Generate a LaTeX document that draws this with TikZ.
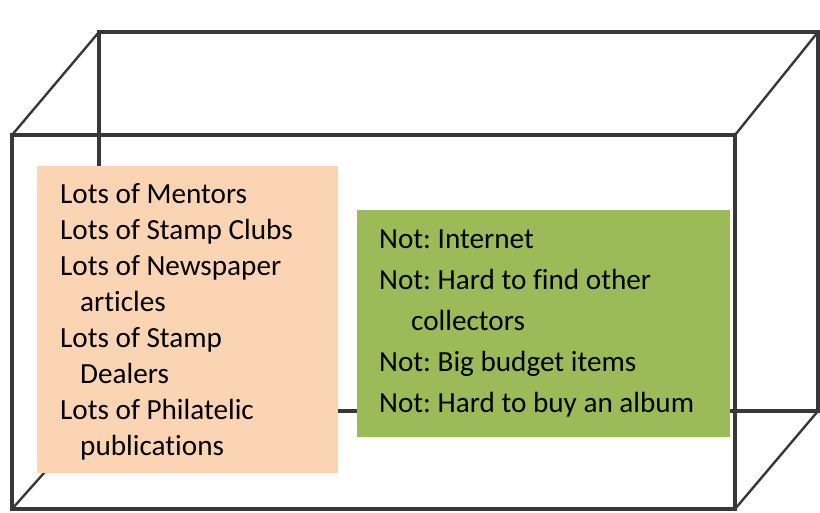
\documentclass[tikz,border=0pt]{standalone}
\usepackage{fontspec}
\setmainfont[Ligatures=NoCommon]{Carlito}
\definecolor{edgegray}{HTML}{383838}
\definecolor{peach}{HTML}{FBD4B4}
\definecolor{olive}{HTML}{9BBB59}
\begin{document}
\frenchspacing
\begin{tikzpicture}[x=1pt,y=-1pt,
  edge/.style={draw=edgegray,line width=3.2pt,line join=miter},
  diag/.style={draw=edgegray,line width=2.4pt},
  panel/.style={anchor=north west,inner sep=0pt,outer sep=0pt},
  item/.style={anchor=base west,inner sep=0pt,font=\fontsize{29.2}{34}\selectfont,text=black}]
\useasboundingbox (0,0) rectangle (820,512);
% cuboid corners
\coordinate (ftl) at (12,135);
\coordinate (ftr) at (735,135);
\coordinate (fbl) at (12,509);
\coordinate (fbr) at (735,509);
\coordinate (btl) at (99,32);
\coordinate (btr) at (818,32);
\coordinate (bbl) at (99,411);
\coordinate (bbr) at (818,411);
% back face
\draw[edge] (btl) -- (btr) -- (bbr) -- (bbl) -- cycle;
% depth edges
\draw[diag] (ftl) -- (btl);
\draw[diag] (ftr) -- (btr);
\draw[diag] (fbl) -- (bbl);
\draw[diag] (fbr) -- (bbr);
% front face
\draw[edge] (ftl) -- (ftr) -- (fbr) -- (fbl) -- cycle;
% panels
\node[panel,fill=peach,minimum width=301pt,minimum height=307pt] (ob) at (37,166) {};
\node[panel,fill=olive,minimum width=373pt,minimum height=227pt] (gb) at (357,210) {};
% orange text
\node[item] (o1) at (60,203) {Lots of Mentors};
\node[item] (o2) at (60,239) {Lots of Stamp Clubs};
\node[item] (o3) at (60,275) {Lots of Newspaper};
\node[item] (o4) at (80,311) {articles};
\node[item] (o5) at (60,347) {Lots of Stamp};
\node[item] (o6) at (80,383) {Dealers};
\node[item] (o7) at (60,419) {Lots of Philatelic};
\node[item] (o8) at (80,455) {publications};
% green text
\node[item] (g1) at (379,248) {Not: Internet};
\node[item] (g2) at (379,289) {Not: Hard to find other};
\node[item] (g3) at (411,330) {collectors};
\node[item] (g4) at (379,371) {Not: Big budget items};
\node[item] (g5) at (379,412) {Not: Hard to buy an album};
\end{tikzpicture}
\end{document}
